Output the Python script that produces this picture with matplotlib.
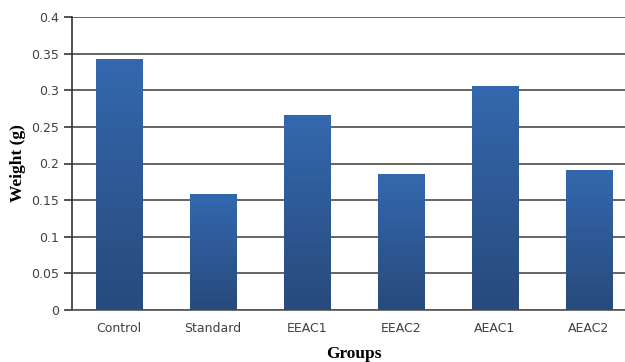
import numpy as np
import matplotlib
matplotlib.use("Agg")
import matplotlib.pyplot as plt
from matplotlib.colors import LinearSegmentedColormap

groups = ["Control", "Standard", "EEAC1", "EEAC2", "AEAC1", "AEAC2"]
weights = [0.343, 0.158, 0.266, 0.186, 0.306, 0.191]
yticks = [0, 0.05, 0.1, 0.15, 0.2, 0.25, 0.3, 0.35, 0.4]
ytick_labels = ["0", "0.05", "0.1", "0.15", "0.2", "0.25", "0.3", "0.35", "0.4"]

fig = plt.figure(figsize=(6.25, 3.62), dpi=100)
# plot area runs past the right edge, like the original export
ax = fig.add_axes([72 / 625, 52 / 362, 564 / 625, 293 / 362])

x = np.arange(len(groups))
bars = ax.bar(x, weights, width=0.49, color="none", edgecolor="none", zorder=3)

# vertical blue gradient inside each bar
cmap = LinearSegmentedColormap.from_list("bluegrad", ["#284a7c", "#3468ae"])
grad = np.linspace(0, 1, 256).reshape(-1, 1)
for b in bars:
    x0, w, h = b.get_x(), b.get_width(), b.get_height()
    im = ax.imshow(grad, cmap=cmap, origin="lower", aspect="auto",
                   extent=[x0, x0 + w, 0, h], zorder=3)
    im.set_clip_path(b)

ax.set_xlim(-0.5, len(groups) - 0.5)
ax.set_ylim(0, 0.4)
ax.set_yticks(yticks)
ax.set_yticklabels(ytick_labels)
ax.set_xticks(x)
ax.set_xticklabels(groups)
ax.yaxis.grid(True, color="#4a4a4a", linewidth=1.2, zorder=0)
ax.set_axisbelow(True)

for side in ("top", "right"):
    ax.spines[side].set_visible(False)
ax.spines["left"].set_color("#333333")
ax.spines["bottom"].set_color("#555555")
ax.spines["left"].set_linewidth(1.2)
ax.spines["bottom"].set_linewidth(1.2)

ax.tick_params(axis="y", length=6, width=1.2, color="#333333",
               labelsize=9, labelcolor="#404040", pad=3)
ax.tick_params(axis="x", length=0, labelsize=9, labelcolor="#404040", pad=9)

ax.set_ylabel("Weight (g)", fontsize=12.5, fontweight="bold",
              family="Liberation Serif", labelpad=4)
fig.text(354 / 625, 8 / 362, "Groups", fontsize=12.5, fontweight="bold",
         family="Liberation Serif", ha="center", va="center")

fig.savefig("out.png", dpi=100)
